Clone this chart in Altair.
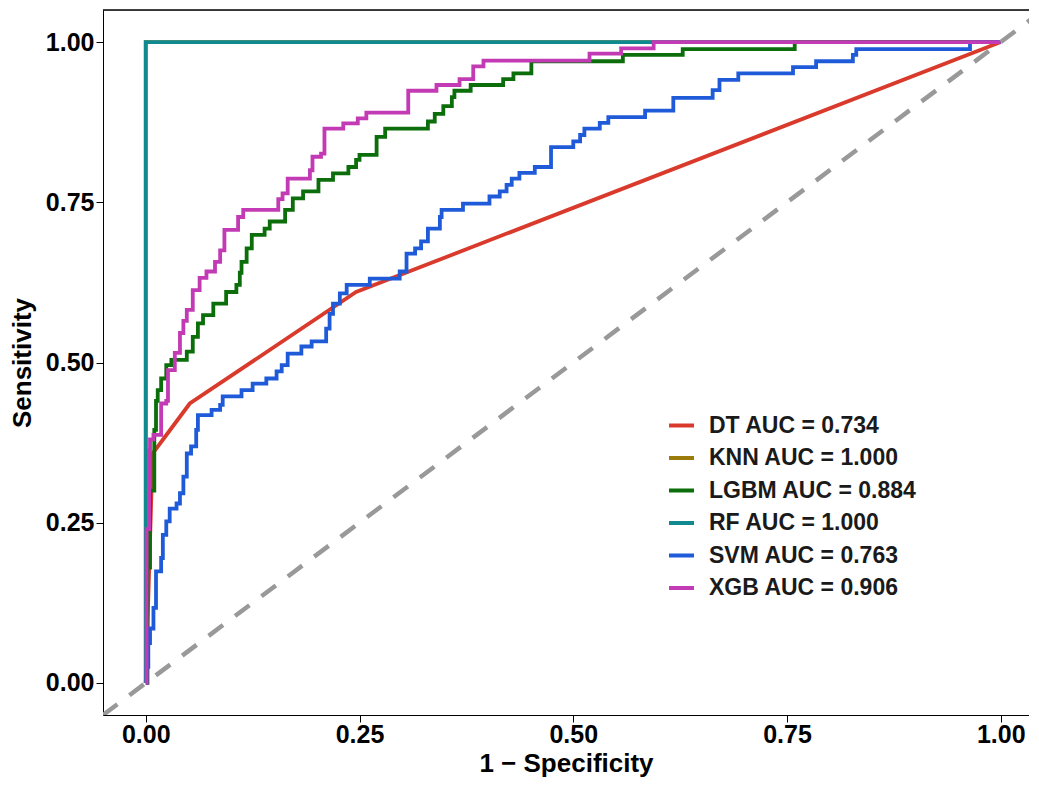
import altair as alt
import pandas as pd

# ---- legend labels and colours ----
MODELS = ["DT AUC = 0.734", "KNN AUC = 1.000", "LGBM AUC = 0.884",
          "RF AUC = 1.000", "SVM AUC = 0.763", "XGB AUC = 0.906"]
COLORS = ["#d93a2b", "#9b7b0b", "#0b6e0b", "#108a8f", "#1f5bd8", "#c23bb4"]

# ---- ROC vertices ----
DT_FPR = [0.0, 0.008, 0.0515, 0.246, 1.0]
DT_TPR = [0.0, 0.358, 0.436, 0.61, 1.0]

KNN_FPR = [0.0, 0.0, 1.0]
KNN_TPR = [0.0, 1.0, 1.0]

RF_FPR = [0.0, 0.0, 1.0]
RF_TPR = [0.0, 1.0, 1.0]

LGBM_FPR = [0.0, 0.002, 0.005, 0.010, 0.012, 0.014, 0.018, 0.024, 0.030, 0.048,
            0.055, 0.061, 0.067, 0.079, 0.094, 0.106, 0.110, 0.112, 0.118, 0.124,
            0.139, 0.145, 0.163, 0.172, 0.184, 0.202, 0.219, 0.237, 0.246, 0.250,
            0.270, 0.280, 0.330, 0.338, 0.348, 0.358, 0.361, 0.380, 0.418, 0.430,
            0.451, 0.558, 0.628, 0.759, 1.0]
LGBM_TPR = [0.0, 0.180, 0.300, 0.395, 0.440, 0.457, 0.475, 0.496, 0.504, 0.517,
            0.540, 0.561, 0.574, 0.592, 0.610, 0.621, 0.640, 0.657, 0.678, 0.699,
            0.709, 0.720, 0.738, 0.756, 0.767, 0.785, 0.795, 0.805, 0.816, 0.824,
            0.852, 0.865, 0.876, 0.888, 0.900, 0.914, 0.924, 0.933, 0.942, 0.951,
            0.970, 0.980, 0.989, 1.0, 1.0]

SVM_FPR = [0.0, 0.001, 0.003, 0.005, 0.009, 0.012, 0.018, 0.020, 0.024, 0.028,
           0.036, 0.040, 0.044, 0.048, 0.053, 0.059, 0.061, 0.077, 0.087, 0.090,
           0.112, 0.125, 0.141, 0.153, 0.159, 0.166, 0.182, 0.194, 0.211, 0.215,
           0.219, 0.227, 0.235, 0.262, 0.297, 0.305, 0.315, 0.322, 0.330, 0.344,
           0.346, 0.371, 0.402, 0.414, 0.422, 0.428, 0.437, 0.455, 0.474, 0.500,
           0.508, 0.513, 0.531, 0.541, 0.584, 0.617, 0.663, 0.671, 0.693, 0.757,
           0.784, 0.827, 0.831, 0.964, 1.0]
SVM_TPR = [0.0, 0.025, 0.062, 0.085, 0.117, 0.174, 0.195, 0.231, 0.252, 0.272,
           0.280, 0.296, 0.322, 0.358, 0.369, 0.395, 0.418, 0.426, 0.434, 0.447,
           0.457, 0.467, 0.475, 0.486, 0.496, 0.514, 0.525, 0.533, 0.553, 0.576,
           0.592, 0.608, 0.621, 0.631, 0.642, 0.670, 0.678, 0.689, 0.709, 0.727,
           0.738, 0.748, 0.759, 0.767, 0.777, 0.787, 0.796, 0.805, 0.836, 0.845,
           0.855, 0.865, 0.874, 0.883, 0.893, 0.913, 0.925, 0.941, 0.951, 0.961,
           0.970, 0.980, 0.989, 1.0, 1.0]

XGB_FPR = [0.0, 0.001, 0.004, 0.005, 0.009, 0.018, 0.024, 0.026, 0.034, 0.040,
           0.044, 0.048, 0.055, 0.063, 0.071, 0.081, 0.087, 0.092, 0.108, 0.114,
           0.155, 0.160, 0.166, 0.192, 0.195, 0.205, 0.209, 0.231, 0.248, 0.258,
           0.307, 0.340, 0.367, 0.383, 0.395, 0.519, 0.556, 0.594, 1.0]
XGB_TPR = [0.0, 0.240, 0.363, 0.380, 0.387, 0.436, 0.440, 0.488, 0.515, 0.546,
           0.565, 0.582, 0.613, 0.632, 0.642, 0.657, 0.675, 0.707, 0.727, 0.738,
           0.755, 0.764, 0.787, 0.800, 0.821, 0.826, 0.865, 0.873, 0.881, 0.890,
           0.924, 0.933, 0.942, 0.962, 0.971, 0.982, 0.990, 1.0, 1.0]

DIAG = [-0.05, 1.05]

X_DOMAIN = [-0.05, 1.033]
Y_DOMAIN = [-0.05, 1.05]
X_TICKS = [0.0, 0.25, 0.5, 0.75, 1.0]
Y_TICKS = [0.0, 0.25, 0.5, 0.75, 1.0]

FONT = "Liberation Sans"

# ---- build tables ----
def rows(label, fpr, tpr):
    return [{"model": label, "fpr": a, "tpr": b, "i": k}
            for k, (a, b) in enumerate(zip(fpr, tpr))]

linear_rows = (rows(MODELS[0], DT_FPR, DT_TPR) + rows(MODELS[1], KNN_FPR, KNN_TPR)
               + rows(MODELS[3], RF_FPR, RF_TPR))
step_rows = (rows(MODELS[2], LGBM_FPR, LGBM_TPR) + rows(MODELS[4], SVM_FPR, SVM_TPR)
             + rows(MODELS[5], XGB_FPR, XGB_TPR))
linear_df = pd.DataFrame(linear_rows)
step_df = pd.DataFrame(step_rows)
diag_df = pd.DataFrame({"fpr": DIAG, "tpr": DIAG})

x_scale = alt.Scale(domain=X_DOMAIN, nice=False, zero=False)
y_scale = alt.Scale(domain=Y_DOMAIN, nice=False, zero=False)

x_axis = alt.Axis(values=X_TICKS, format=".2f", grid=False,
                  title="1 − Specificity", titleFontSize=26, titleFontWeight="bold",
                  titleColor="black", titleFont=FONT, titlePadding=3,
                  labelFontSize=25, labelFontWeight="bold", labelColor="black",
                  labelFont=FONT, labelPadding=0,
                  tickColor="black", tickSize=7, tickWidth=1,
                  domainColor="black", domainWidth=1)
y_axis = alt.Axis(values=Y_TICKS, format=".2f", grid=False,
                  title="Sensitivity", titleFontSize=26, titleFontWeight="bold",
                  titleColor="black", titleFont=FONT, titlePadding=10,
                  labelFontSize=25, labelFontWeight="bold", labelColor="black",
                  labelFont=FONT, labelPadding=2,
                  tickColor="black", tickSize=7, tickWidth=1,
                  domainColor="black", domainWidth=1)

color = alt.Color("model:N",
                  scale=alt.Scale(domain=MODELS, range=COLORS),
                  legend=alt.Legend(orient="none", legendX=564, legendY=401,
                                    title=None, symbolType="stroke",
                                    symbolStrokeWidth=4, symbolSize=625,
                                    labelFontSize=23, labelFontWeight="bold",
                                    labelColor="#1a1a1a", labelFont=FONT,
                                    labelOffset=13, rowPadding=5.5, padding=0,
                                    labelLimit=400))

linear = alt.Chart(linear_df).mark_line(strokeWidth=3.8, clip=True).encode(
    x=alt.X("fpr:Q", scale=x_scale, axis=x_axis),
    y=alt.Y("tpr:Q", scale=y_scale, axis=y_axis),
    color=color,
    order=alt.Order("i:Q"),
)

step = alt.Chart(step_df).mark_line(strokeWidth=3.8, clip=True,
                                    interpolate="step-after").encode(
    x=alt.X("fpr:Q", scale=x_scale, axis=x_axis),
    y=alt.Y("tpr:Q", scale=y_scale, axis=y_axis),
    color=color,
    order=alt.Order("i:Q"),
)

diag = alt.Chart(diag_df).mark_line(strokeWidth=4.5, color="#999999",
                                    strokeDash=[18, 15], clip=True).encode(
    x=alt.X("fpr:Q", scale=x_scale, axis=x_axis),
    y=alt.Y("tpr:Q", scale=y_scale, axis=y_axis),
)

# top border of the panel (the right side is cropped in the reference)
top_border = alt.Chart(diag_df).mark_rule(color="black", strokeWidth=1).encode(
    x=alt.datum(X_DOMAIN[0], type="quantitative", scale=x_scale),
    x2=alt.datum(X_DOMAIN[1]),
    y=alt.datum(Y_DOMAIN[1], type="quantitative", scale=y_scale),
)

chart = (
    alt.layer(linear, step, diag, top_border)
    .properties(width=926, height=705,
                autosize=alt.AutoSizeParams(type="none"),
                padding={"left": 95, "top": 2, "right": 0, "bottom": 68})
    .configure_view(stroke=None)
    .configure(font=FONT, background="white")
)

chart.save("out.html", embed_options={"renderer": "svg", "actions": False})
